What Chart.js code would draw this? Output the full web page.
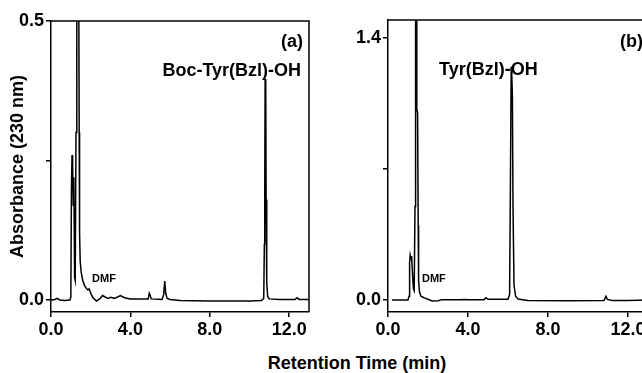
<!DOCTYPE html>
<html>
<head>
<meta charset="utf-8">
<script src="https://cdn.jsdelivr.net/npm/chart.js@4.4.1/dist/chart.umd.min.js"></script>
<style>
  body { margin: 0; overflow: hidden; background: #fff; width: 642px; height: 373px; position: relative; }
  canvas { position: absolute; top: 0; }
  #xtitle { position: absolute; left: 257px; width: 200px; top: 353px; text-align: center;
            font: bold 18px "Liberation Sans", Arial, sans-serif; line-height: 20px; color: #000; white-space: nowrap; }
</style>
</head>
<body>
<canvas id="chartA" width="320" height="345" style="left:0"></canvas>
<canvas id="chartB" width="320" height="345" style="left:337px"></canvas>
<div id="xtitle">Retention Time (min)</div>
<script>
"use strict"

// panel (a): Boc-Tyr(Bzl)-OH, retention time (min) vs absorbance
const timeA = [0.0, 0.2, 0.3, 0.45, 0.7, 0.95, 1.0, 1.03, 1.06, 1.09, 1.12, 1.15, 1.19, 1.22, 1.26, 1.30, 1.38, 1.42, 1.44, 1.47, 1.52, 1.6, 1.7, 1.8, 1.86, 1.92, 2.0, 2.1, 2.2, 2.3, 2.45, 2.6, 2.75, 2.9, 3.0, 3.2, 3.5, 3.7, 4.0, 4.5, 4.9, 4.95, 5.0, 5.05, 5.6, 5.68, 5.73, 5.78, 5.85, 6.0, 6.5, 8.0, 10.0, 10.6, 10.72, 10.75, 10.77, 10.79, 10.82, 10.84, 10.87, 10.92, 11.0, 11.5, 12.3, 12.4, 12.5, 13.0];
const absA  = [0.000, 0.001, 0.003, 0.000, -0.001, 0.000, 0.005, 0.20, 0.26, 0.24, 0.17, 0.22, 0.04, 0.035, 0.30, 0.80, 0.80, 0.30, 0.12, 0.07, 0.05, 0.035, 0.025, 0.02, 0.018, 0.02, 0.012, 0.005, 0.001, -0.002, 0.002, 0.008, 0.005, 0.003, 0.005, 0.003, 0.008, 0.004, 0.002, 0.002, 0.002, 0.012, 0.008, 0.002, 0.001, 0.01, 0.034, 0.012, 0.003, 0.001, -0.001, -0.002, -0.002, -0.001, 0.003, 0.10, 0.18, 0.396, 0.38, 0.18, 0.03, 0.006, 0.002, 0.001, 0.001, 0.004, 0.001, 0.001];

// panel (b): Tyr(Bzl)-OH
const timeB = [0.2, 0.6, 1.0, 1.05, 1.08, 1.11, 1.15, 1.18, 1.22, 1.27, 1.31, 1.35, 1.38, 1.42, 1.44, 1.48, 1.51, 1.53, 1.58, 1.65, 1.75, 1.85, 2.0, 2.2, 2.5, 2.7, 3.0, 3.5, 3.9, 4.0, 4.8, 4.9, 5.0, 6.0, 6.08, 6.12, 6.16, 6.19, 6.22, 6.25, 6.3, 6.38, 6.5, 7.0, 9.0, 10.8, 10.9, 10.97, 11.2, 12.0, 13.0];
const absB  = [0.0, 0.0, 0.0, 0.02, 0.20, 0.24, 0.22, 0.235, 0.15, 0.06, 0.05, 0.5, 2.0, 2.0, 1.02, 1.0, 0.4, 0.1, 0.04, 0.02, 0.015, 0.01, 0.004, -0.005, -0.004, 0.002, 0.002, 0.001, 0.003, 0.002, 0.002, 0.012, 0.004, 0.004, 0.03, 0.6, 1.246, 1.2, 1.09, 0.5, 0.08, 0.02, 0.005, -0.003, -0.004, -0.002, 0.02, 0.003, -0.002, -0.002, 0.0];

const xTicks = [0, 4, 8, 12];
const yTicksA = [0, 0.25, 0.5];
const yLabelsA = ['0.0', '', '0.5'];
const yTicksB = [0, 0.7, 1.4];
const yLabelsB = ['0.0', '', '1.4'];

const FONT = '"Liberation Sans", Arial, Helvetica, sans-serif';

// text notes placed in data coordinates
const notesPlugin = {
  id: 'notes',
  beforeDatasetsDraw(chart, args, opts) {
    const ctx = chart.ctx, x = chart.scales.x, y = chart.scales.y;
    ctx.save();
    ctx.fillStyle = '#000';
    ctx.textBaseline = 'middle';
    (opts.items || []).forEach(n => {
      ctx.font = 'bold ' + n.size + 'px ' + FONT;
      ctx.textAlign = n.align || 'left';
      ctx.fillText(n.text, x.getPixelForValue(n.x), y.getPixelForValue(n.y));
    });
    ctx.restore();
  }
};

// closing top and right sides of the frame
const framePlugin = {
  id: 'frame',
  afterDatasetsDraw(chart) {
    const a = chart.chartArea, ctx = chart.ctx;
    ctx.save();
    ctx.strokeStyle = '#000';
    ctx.lineWidth = 1.5;
    ctx.beginPath();
    ctx.moveTo(a.left, a.top);
    ctx.lineTo(a.right, a.top);
    ctx.lineTo(a.right, a.bottom);
    ctx.stroke();
    ctx.restore();
  }
};

function makeChart(id, times, values, yMin, yMax, yTicks, yLabels, yTitle, padding, notes) {
  let ctx = document.getElementById(id).getContext('2d');
  return new Chart(ctx, {
    type: 'line',
    data: {
      datasets: [{
        data: times.map((t, i) => ({x: t, y: values[i]})),
        borderColor: '#000',
        borderWidth: 1.5,
        pointRadius: 0,
        tension: 0,
        fill: false
      }]
    },
    options: {
      responsive: false,
      animation: false,
      layout: { padding: padding },
      plugins: { legend: { display: false }, tooltip: { enabled: false }, notes: { items: notes } },
      scales: {
        x: {
          type: 'linear', min: 0, max: 13,
          afterBuildTicks: s => { s.ticks = xTicks.map(v => ({value: v})); },
          afterFit: s => { s.height = 33; },
          border: { display: true, color: '#000', width: 1.5 },
          grid: { display: true, drawOnChartArea: false, drawTicks: true, tickLength: 5, color: '#000', lineWidth: 1.5 },
          ticks: { color: '#000', padding: 2, maxRotation: 0, autoSkip: false,
                   font: { family: FONT, size: 18, weight: 'bold' },
                   callback: v => v.toFixed(1) }
        },
        y: {
          type: 'linear', min: yMin, max: yMax,
          afterBuildTicks: s => { s.ticks = yTicks.map(v => ({value: v})); },
          afterFit: s => { s.width = 51; },
          border: { display: true, color: '#000', width: 1.5 },
          grid: { display: true, drawOnChartArea: false, drawTicks: true, tickLength: 5, color: '#000', lineWidth: 1.5 },
          ticks: { color: '#000', padding: 2, autoSkip: false,
                   font: { family: FONT, size: 18, weight: 'bold' },
                   callback: (v, i) => yLabels[yTicks.indexOf(v)] || '' },
          title: { display: yTitle != null, text: yTitle || '', color: '#000',
                   font: { family: FONT, size: 18, weight: 'bold' }, padding: { top: 7, bottom: 0 } }
        }
      }
    },
    plugins: [notesPlugin, framePlugin]
  });
}

makeChart('chartA', timeA, absA, -0.0215, 0.5, yTicksA, yLabelsA, 'Absorbance (230 nm)',
  { left: 0, top: 21, right: 11, bottom: 0 },
  [
    { text: '(a)', x: 12.7, y: 0.462, size: 18, align: 'right' },
    { text: 'Boc-Tyr(Bzl)-OH', x: 12.6, y: 0.410, size: 18, align: 'right' },
    { text: 'DMF', x: 2.07, y: 0.038, size: 11, align: 'left' }
  ]);

makeChart('chartB', timeB, absB, -0.064, 1.496, yTicksB, yLabelsB, null,
  { left: 0, top: 20, right: 9, bottom: 0 },
  [
    { text: '(b)', x: 11.6, y: 1.379, size: 18, align: 'left' },
    { text: 'Tyr(Bzl)-OH', x: 2.55, y: 1.23, size: 18, align: 'left' },
    { text: 'DMF', x: 1.7, y: 0.112, size: 11, align: 'left' }
  ]);
</script>
</body>
</html>
